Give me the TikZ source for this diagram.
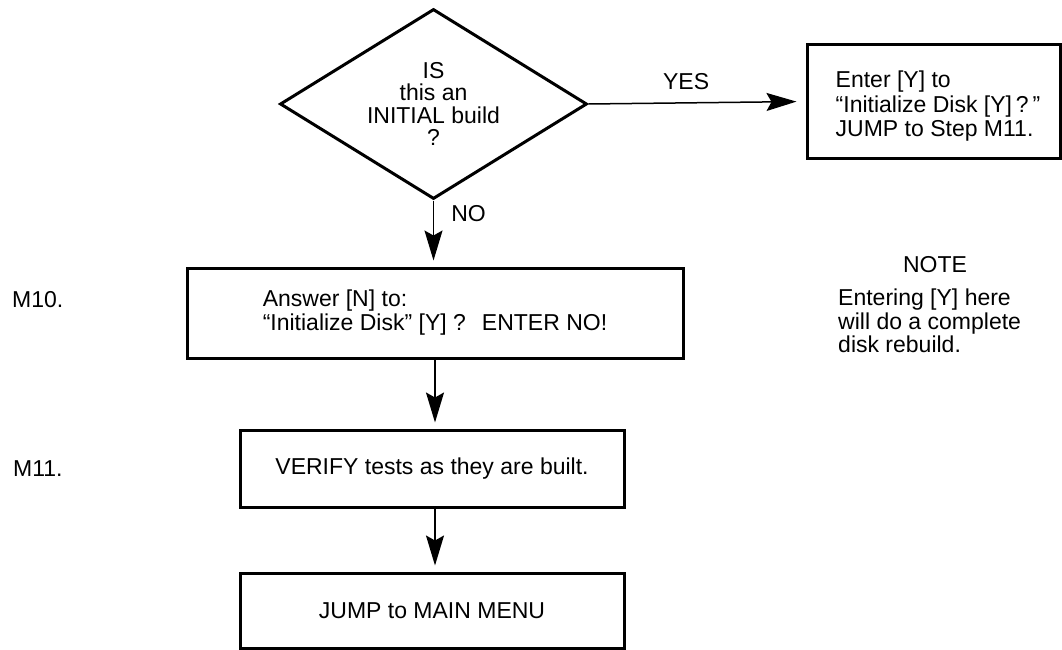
\documentclass[tikz,border=0pt]{standalone}
\usepackage{fontspec}
\setmainfont{Liberation Sans}
\usetikzlibrary{shapes.geometric,arrows.meta}
\begin{document}
\begin{tikzpicture}[x=1pt,y=-1pt,
  every node/.style={font=\fontsize{23}{24}\selectfont, inner sep=0pt},
  flowbox/.style={draw, line width=3pt, rectangle, inner sep=0pt},
  decision/.style={draw, line width=3pt, diamond, aspect=1.6, inner sep=0pt,
    align=center, font=\fontsize{23}{22.5}\selectfont},
  flowarrow/.style={line width=1.5pt,
    -{Stealth[length=30pt,width=18pt,inset=5pt]}, shorten >=6pt},
  steplabel/.style={anchor=west},
  plaintext/.style={align=left}]
\useasboundingbox (0,0) rectangle (1062,650);

% decision
\node[decision, minimum width=307pt, minimum height=190pt] (q) at (433.5,104)
  {IS\\this an\\INITIAL build\\?};

% YES branch
\node[flowbox, minimum width=253pt, minimum height=113pt] (yes) at (933.5,101.5) {};
\node[plaintext, anchor=west, font=\fontsize{23}{24.5}\selectfont] (yestext)
  at ([xshift=30pt,yshift=-5pt]yes.west)
  {Enter [Y] to\\“Initialize Disk [Y]\,?\,”\\JUMP to Step M11.};

% main steps
\node[flowbox, minimum width=496pt, minimum height=90pt, align=left] (m10) at (435,313)
  {Answer [N] to:\\“Initialize Disk” [Y] ?\hspace{16pt}ENTER NO!};
\node[flowbox, minimum width=384pt, minimum height=77pt] (m11) at (432,468.5)
  {VERIFY tests as they are built.};
\node[flowbox, minimum width=384pt, minimum height=75pt] (menu) at (432,610.5)
  {JUMP to MAIN MENU};

% step numbers
\node[steplabel] (lm10) at (12,300) {M10.};
\node[steplabel] (lm11) at (13,469) {M11.};

% note
\node (notehead) at (935,265) {NOTE};
\node[plaintext, anchor=west, font=\fontsize{23}{23.5}\selectfont] (notetext) at (838,321)
  {Entering [Y] here\\will do a complete\\disk rebuild.};

% connectors
\draw[flowarrow, shorten >=9pt] (q.east) -- node[pos=0.45, above=12pt] (yeslbl) {YES} (yes.west);
\draw[flowarrow] (q.south) -- node[pos=0.2, right=17pt] (nolbl) {NO} (q.south |- m10.north);
\draw[flowarrow] (m10.south) -- (m10.south |- m11.north);
\draw[flowarrow] (m10.south |- m11.south) -- (m10.south |- menu.north);
\end{tikzpicture}
\end{document}
